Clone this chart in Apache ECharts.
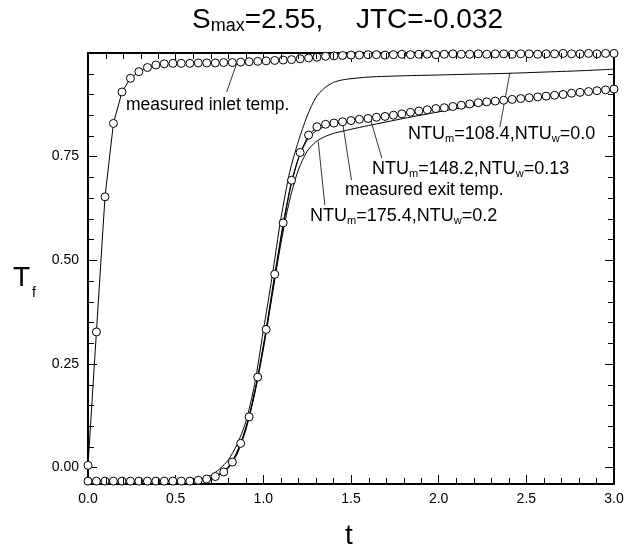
<!DOCTYPE html>
<html>
<head>
<meta charset="utf-8">
<script src="https://cdn.jsdelivr.net/npm/echarts@6/dist/echarts.min.js"></script>
<style>
html,body{margin:0;padding:0;background:#fff;}
#chart{width:633px;height:547px;}
</style>
</head>
<body>
<div id="chart"></div>
<script>
// ---- data ----
const MEAS_T = [0, 0.048, 0.097, 0.145, 0.194, 0.242, 0.290, 0.339, 0.387, 0.435, 0.484, 0.532, 0.581, 0.629, 0.677, 0.726, 0.774, 0.823, 0.871, 0.919, 0.968, 1.016, 1.065, 1.113, 1.161, 1.210, 1.258, 1.306, 1.355, 1.403, 1.452, 1.500, 1.548, 1.597, 1.645, 1.694, 1.742, 1.790, 1.839, 1.887, 1.935, 1.984, 2.032, 2.081, 2.129, 2.177, 2.226, 2.274, 2.323, 2.371, 2.419, 2.468, 2.516, 2.565, 2.613, 2.661, 2.710, 2.758, 2.806, 2.855, 2.903, 2.952, 3.000];
const INLET_TEMP = [0.005, 0.327, 0.653, 0.830, 0.906, 0.939, 0.955, 0.965, 0.971, 0.974, 0.975, 0.975, 0.975, 0.976, 0.976, 0.976, 0.977, 0.977, 0.978, 0.979, 0.980, 0.981, 0.982, 0.983, 0.984, 0.986, 0.988, 0.990, 0.992, 0.993, 0.994, 0.995,
  0.995, 0.996, 0.996, 0.995, 0.996, 0.997, 0.996, 0.997, 0.997, 0.996, 0.997, 0.998, 0.997, 0.997, 0.998, 0.997, 0.998, 0.998, 0.997, 0.998, 0.998, 0.997, 0.998, 0.998, 0.999, 0.998, 0.998, 0.999, 0.998, 0.999, 0.999];
const EXIT_TEMP = [-0.033, -0.033, -0.033, -0.033, -0.033, -0.033, -0.033, -0.033, -0.033, -0.033, -0.033, -0.033, -0.033,
  -0.031, -0.028, -0.022, -0.011, 0.013, 0.058, 0.122, 0.218, 0.333, 0.466, 0.590, 0.693, 0.760, 0.802, 0.822, 0.828, 0.831,
  0.834, 0.837, 0.840, 0.842, 0.845, 0.847, 0.850, 0.853, 0.857, 0.860, 0.863, 0.866, 0.868, 0.871, 0.874, 0.877, 0.880,
  0.882, 0.884, 0.886, 0.888, 0.890, 0.892, 0.894, 0.896, 0.898, 0.900, 0.903, 0.905, 0.907, 0.909, 0.911, 0.913];

const MODEL_T = [0, 0.55, 0.6, 0.65, 0.7, 0.75, 0.8, 0.85, 0.9, 0.95, 1.0, 1.05, 1.1, 1.15, 1.2, 1.25, 1.3, 1.35, 1.4, 1.45, 1.5, 1.6, 1.8, 2.0, 2.2, 2.4, 2.6, 2.8, 3.0];
const NTU_108 = [-0.033, -0.033, -0.031, -0.027, -0.019, -0.004, 0.018, 0.055, 0.110, 0.200, 0.330, 0.460, 0.600, 0.712, 0.787, 0.848, 0.893, 0.916, 0.929, 0.935, 0.938, 0.942, 0.945, 0.947, 0.949, 0.951, 0.954, 0.957, 0.961];
const NTU_148 = [-0.033, -0.033, -0.032, -0.029, -0.025, -0.016, 0.000, 0.035, 0.093, 0.180, 0.290, 0.420, 0.550, 0.665, 0.745, 0.790, 0.812, 0.822, 0.828, 0.832, 0.835, 0.842, 0.853, 0.865, 0.876, 0.886, 0.895, 0.904, 0.913];
const NTU_175 = [-0.033, -0.033, -0.032, -0.030, -0.026, -0.018, -0.002, 0.032, 0.090, 0.176, 0.285, 0.413, 0.540, 0.645, 0.718, 0.763, 0.786, 0.798, 0.806, 0.811, 0.816, 0.825, 0.842, 0.858, 0.873, 0.885, 0.895, 0.904, 0.913];

// leader lines (data coordinates): from label to curve
const LEADERS = [
  [[0.791, 0.906], [0.848, 0.975]],
  [[2.349, 0.821], [2.406, 0.952]],
  [[1.676, 0.746], [1.608, 0.845]],
  [[1.503, 0.693], [1.451, 0.834]],
  [[1.351, 0.633], [1.313, 0.787]]
];

const X_TICK_LABELS = ['0.0', '0.5', '1.0', '1.5', '2.0', '2.5', '3.0'];
const Y_TICK_LABELS = ['0.00', '0.25', '0.50', '0.75'];
const X_MINOR_TICKS = [0.1, 0.2, 0.3, 0.4, 0.6, 0.7, 0.8, 0.9, 1.1, 1.2, 1.3, 1.4, 1.6, 1.7, 1.8, 1.9, 2.1, 2.2, 2.3, 2.4, 2.6, 2.7, 2.8, 2.9];
const Y_MINOR_TICKS = [0.05, 0.10, 0.15, 0.20, 0.30, 0.35, 0.40, 0.45, 0.55, 0.60, 0.65, 0.70, 0.80, 0.85, 0.90, 0.95];

// ---- chart ----
const FONT = 'Liberation Sans, Arial, Helvetica, sans-serif';
const Y_MIN = -0.04, Y_MAX = 1.0, X_MIN = 0, X_MAX = 3;
const MINOR_LEN = 6;
const pairs = (xs, ys) => xs.map((x, i) => [x, ys[i]]);
const chart = echarts.init(document.getElementById('chart'), null, {renderer: 'canvas'});

const baseAxis = {
  type: 'value',
  splitLine: {show: false},
  axisLine: {show: true, onZero: false, lineStyle: {color: '#000', width: 2}},
  axisTick: {show: true, inside: true, length: 9, lineStyle: {color: '#000', width: 1}},
  axisLabel: {show: false}
};
const xBase = Object.assign({}, baseAxis, {min: X_MIN, max: X_MAX, interval: 0.5});
const yBase = Object.assign({}, baseAxis, {min: Y_MIN, max: Y_MAX, minInterval: 0.25, maxInterval: 0.25});

const labelFmtX = v => X_TICK_LABELS.find(s => Math.abs(parseFloat(s) - v) < 1e-6) || '';
const labelFmtY = v => Y_TICK_LABELS.find(s => Math.abs(parseFloat(s) - v) < 1e-6) || '';

const symbolSeries = (name, data) => ({
  name, type: 'line', data,
  symbol: 'circle', symbolSize: 8, showAllSymbol: true,
  itemStyle: {color: '#fff', borderColor: '#000', borderWidth: 1},
  lineStyle: {color: '#000', width: 1},
  z: 5, animation: false
});
const modelSeries = (name, data) => ({
  name, type: 'line', data,
  symbol: 'none', smooth: 0.25,
  lineStyle: {color: '#000', width: 1}, z: 3, animation: false
});

// minor tick marks drawn through the axes' own scale
const tickLine = (x1, y1, x2, y2) => ({type: 'line', shape: {x1, y1, x2, y2},
  style: {stroke: '#000', lineWidth: 1}});
const minorX = {
  type: 'custom', silent: true, z: 6, animation: false, clip: false,
  data: X_MINOR_TICKS.map(v => [v, 0.5]),
  encode: {x: 0, y: 1},
  renderItem: (params, api) => {
    const v = api.value(0);
    const b = api.coord([v, Y_MIN]);
    const t = api.coord([v, Y_MAX]);
    const bx = Math.round(b[0]) + 0.5;
    return {type: 'group', children: [
      tickLine(bx, b[1], bx, b[1] - MINOR_LEN),
      tickLine(bx, t[1], bx, t[1] + MINOR_LEN)]};
  }
};
const minorY = {
  type: 'custom', silent: true, z: 6, animation: false, clip: false,
  data: Y_MINOR_TICKS.map(v => [1.5, v]),
  encode: {x: 0, y: 1},
  renderItem: (params, api) => {
    const v = api.value(1);
    const l = api.coord([X_MIN, v]);
    const r = api.coord([X_MAX, v]);
    const ly = Math.round(l[1]) + 0.5;
    return {type: 'group', children: [
      tickLine(l[0], ly, l[0] + MINOR_LEN, ly),
      tickLine(r[0], ly, r[0] - MINOR_LEN, ly)]};
  }
};

const sub = (fs, pad) => ({fontSize: fs, fontFamily: FONT, color: '#000', padding: [pad, 0, 0, 0]});
const main = (fs, lh) => ({fontSize: fs, fontFamily: FONT, color: '#000', lineHeight: lh});
const ntuText = (x, y, a, b) => ({
  type: 'text', left: x, top: y - 12,
  style: {
    text: '{a|NTU}{s|m}{a|=' + a + ',NTU}{s|w}{a|=' + b + '}',
    rich: {a: main(18, 24), s: sub(11, 9)}
  }
});
const plainText = (x, y, txt, fs) => ({
  type: 'text', left: x, top: y - fs * 0.6,
  style: {text: txt, fontSize: fs, fontFamily: FONT, fill: '#000'}
});

const option = {
  backgroundColor: '#fff',
  animation: false,
  grid: {left: 88, top: 53, width: 526, height: 431},
  xAxis: [
    Object.assign({}, xBase, {position: 'bottom',
      axisLabel: {show: true, formatter: labelFmtX, fontSize: 14, color: '#000', fontFamily: FONT, margin: 8}}),
    Object.assign({}, xBase, {position: 'top'})
  ],
  yAxis: [
    Object.assign({}, yBase, {position: 'left',
      axisLabel: {show: true, formatter: labelFmtY, fontSize: 14, color: '#000', fontFamily: FONT, margin: 9}}),
    Object.assign({}, yBase, {position: 'right'})
  ],
  series: [
    modelSeries('NTU_m=108.4,NTU_w=0.0', pairs(MODEL_T, NTU_108)),
    modelSeries('NTU_m=148.2,NTU_w=0.13', pairs(MODEL_T, NTU_148)),
    modelSeries('NTU_m=175.4,NTU_w=0.2', pairs(MODEL_T, NTU_175)),
    symbolSeries('measured inlet temp.', pairs(MEAS_T, INLET_TEMP)),
    symbolSeries('measured exit temp.', pairs(MEAS_T, EXIT_TEMP)),
    {
      type: 'lines', coordinateSystem: 'cartesian2d', polyline: false,
      data: LEADERS.map(c => ({coords: c})),
      lineStyle: {color: '#000', width: 0.8, opacity: 1}, z: 4, animation: false
    },
    minorX, minorY
  ],
  graphic: [
    {type: 'text', left: 192, top: 6,
     style: {text: '{a|S}{s|max}{a|=2.55,}', rich: {a: main(28, 30), s: sub(18, 12)}}},
    {type: 'text', left: 356, top: 6,
     style: {text: 'JTC=-0.032', fontSize: 28, fontFamily: FONT, fill: '#000'}},
    {type: 'text', left: 13, top: 264, style: {text: 'T', fontSize: 28, fontFamily: FONT, fill: '#000'}},
    {type: 'text', left: 32, top: 286, style: {text: 'f', fontSize: 14, fontFamily: FONT, fill: '#000'}},
    {type: 'text', left: 345, top: 522, style: {text: 't', fontSize: 28, fontFamily: FONT, fill: '#000'}},
    plainText(126, 107, 'measured inlet temp.', 17.5),
    plainText(345, 192, 'measured exit temp.', 17.5),
    ntuText(408, 137, '108.4', '0.0'),
    ntuText(372, 172, '148.2', '0.13'),
    ntuText(310, 219, '175.4', '0.2')
  ]
};
chart.setOption(option);
</script>
</body>
</html>
